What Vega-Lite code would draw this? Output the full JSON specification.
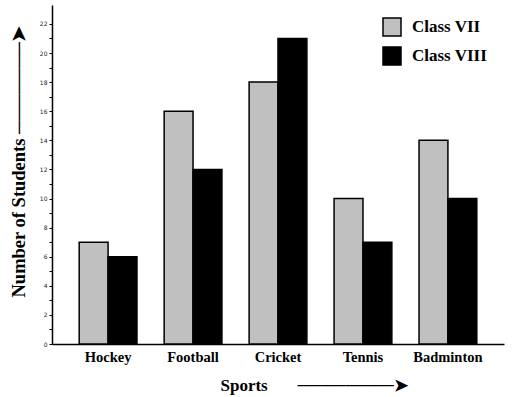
{
  "$schema": "https://vega.github.io/schema/vega-lite/v6.json",
  "autosize": "none",
  "width": 452,
  "height": 339,
  "padding": {"left": 52, "top": 5, "right": 8, "bottom": 53},
  "background": "white",
  "config": {"view": {"stroke": null}},
  "data": {"values": [
    {"sport": "Hockey", "cls": "Class VII", "students": 7},
    {"sport": "Hockey", "cls": "Class VIII", "students": 6},
    {"sport": "Football", "cls": "Class VII", "students": 16},
    {"sport": "Football", "cls": "Class VIII", "students": 12},
    {"sport": "Cricket", "cls": "Class VII", "students": 18},
    {"sport": "Cricket", "cls": "Class VIII", "students": 21},
    {"sport": "Tennis", "cls": "Class VII", "students": 10},
    {"sport": "Tennis", "cls": "Class VIII", "students": 7},
    {"sport": "Badminton", "cls": "Class VII", "students": 14},
    {"sport": "Badminton", "cls": "Class VIII", "students": 10}
  ]},
  "mark": {"type": "bar", "stroke": "black", "strokeWidth": 1.5},
  "encoding": {
    "x": {
      "field": "sport", "type": "nominal", "sort": null,
      "scale": {"paddingInner": 0.32, "paddingOuter": 0.32},
      "axis": {
        "title": "Sports\u00a0\u00a0\u00a0\u00a0\u00a0\u00a0\u00a0────────➤",
        "titleFont": "Liberation Serif", "titleFontSize": 17, "titleFontWeight": "bold",
        "titleAnchor": "start", "titleAlign": "left", "titleX": 168, "titleY": 41, "titleBaseline": "middle",
        "labelAngle": 0, "labelFont": "Liberation Serif", "labelFontSize": 14.5, "labelFontWeight": "bold",
        "labelColor": "black", "labelPadding": 6, "ticks": false,
        "domainColor": "black", "domainWidth": 1.5
      }
    },
    "xOffset": {"field": "cls", "type": "nominal", "scale": {"paddingInner": 0, "paddingOuter": 0}},
    "y": {
      "field": "students", "type": "quantitative", "stack": null,
      "scale": {"domain": [0, 23.3], "nice": false},
      "axis": {
        "values": [0,1,2,3,4,5,6,7,8,9,10,11,12,13,14,15,16,17,18,19,20,21,22],
        "labelExpr": "datum.value % 2 == 0 ? datum.label : ''",
        "labelOverlap": false,
        "grid": false, "labelFontSize": 6, "labelFont": "DejaVu Sans", "labelColor": "#222",
        "tickSize": 3, "tickColor": "black", "labelPadding": 2,
        "domainColor": "black", "domainWidth": 1.5,
        "title": "Number of Students\u00a0───────➤",
        "titleFont": "Liberation Serif", "titleFontSize": 18.5, "titleFontWeight": "bold",
        "titleAngle": -90, "titleAnchor": "start", "titleAlign": "left",
        "titleX": -34, "titleY": 292, "titleBaseline": "middle"
      }
    },
    "color": {
      "field": "cls", "type": "nominal",
      "scale": {"domain": ["Class VII", "Class VIII"], "range": ["#c0c0c0", "#000000"]},
      "legend": {
        "title": null, "orient": "none", "legendX": 330, "legendY": 12,
        "symbolType": "square", "symbolSize": 324, "symbolStrokeColor": "black",
        "symbolStrokeWidth": 1.5, "symbolOpacity": 1,
        "labelFont": "Liberation Serif", "labelFontSize": 17, "labelFontWeight": "bold",
        "labelColor": "black", "labelOffset": 10, "rowPadding": 5, "padding": 0
      }
    }
  }
}
